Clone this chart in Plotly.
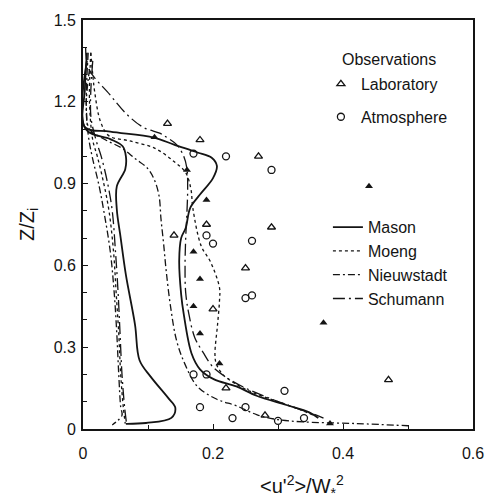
import plotly.graph_objects as go

# ---- model profiles: total (resolved + subgrid) variance ----
mason_x = [0.006, 0.003, 0.003, 0.042, 0.109, 0.140, 0.175, 0.198, 0.206, 0.200, 0.179, 0.165,
           0.158, 0.151, 0.148, 0.151, 0.155, 0.167, 0.180, 0.201, 0.236, 0.267, 0.313, 0.348, 0.362]
mason_z = [1.38, 1.25, 1.107, 1.091, 1.069, 1.043, 1.015, 0.995, 0.965, 0.920, 0.857, 0.811,
           0.737, 0.700, 0.617, 0.494, 0.421, 0.277, 0.219, 0.183, 0.156, 0.122, 0.088, 0.061, 0.040]

moeng_x = [0.012, 0.015, 0.018, 0.027, 0.040, 0.071, 0.110, 0.140, 0.158, 0.166, 0.169, 0.182,
           0.196, 0.210, 0.210, 0.207, 0.203, 0.205, 0.215, 0.235, 0.265, 0.300, 0.335, 0.355]
moeng_z = [1.38, 1.30, 1.236, 1.127, 1.075, 1.057, 1.030, 0.981, 0.940, 0.880, 0.810, 0.670,
           0.614, 0.518, 0.471, 0.383, 0.274, 0.240, 0.200, 0.165, 0.130, 0.100, 0.070, 0.050]

nieuw_x = [0.010, 0.005, 0.010, 0.035, 0.060, 0.081, 0.099, 0.110, 0.117, 0.120, 0.124, 0.128,
           0.135, 0.144, 0.157, 0.176, 0.206, 0.236, 0.268, 0.298, 0.339, 0.420, 0.500]
nieuw_z = [1.32, 1.18, 1.100, 1.060, 1.030, 0.990, 0.957, 0.913, 0.855, 0.770, 0.680, 0.580,
           0.444, 0.324, 0.237, 0.156, 0.109, 0.085, 0.052, 0.035, 0.026, 0.020, 0.012]

schu_x = [0.004, 0.009, 0.041, 0.067, 0.093, 0.118, 0.128, 0.144, 0.155, 0.160, 0.161, 0.160,
          0.158, 0.157, 0.158, 0.163, 0.172, 0.185, 0.200, 0.220, 0.250, 0.290, 0.330, 0.360, 0.370]
schu_z = [1.40, 1.32, 1.227, 1.155, 1.106, 1.085, 1.071, 1.043, 1.000, 0.953, 0.880, 0.800,
          0.700, 0.600, 0.500, 0.420, 0.335, 0.280, 0.227, 0.190, 0.150, 0.110, 0.075, 0.050, 0.040]

# ---- model profiles: subgrid contribution ----
mason_sgs_x = [0.006, 0.004, 0.042, 0.061, 0.066, 0.065, 0.052, 0.052, 0.058, 0.066, 0.080, 0.087,
               0.104, 0.131, 0.142, 0.136, 0.097, 0.066]
mason_sgs_z = [1.35, 1.100, 1.063, 1.037, 1.000, 0.953, 0.890, 0.806, 0.700, 0.565, 0.383, 0.252,
               0.192, 0.114, 0.078, 0.041, 0.022, 0.019]

moeng_sgs_x = [0.012, 0.010, 0.015, 0.022, 0.032, 0.040, 0.047, 0.051, 0.055, 0.058, 0.062, 0.065]
moeng_sgs_z = [1.38, 1.20, 1.06, 1.00, 0.90, 0.80, 0.65, 0.50, 0.35, 0.20, 0.08, 0.02]

nieuw_sgs_x = [0.008, 0.005, 0.008, 0.014, 0.024, 0.032, 0.042, 0.048, 0.052, 0.055, 0.058, 0.060, 0.045]
nieuw_sgs_z = [1.38, 1.20, 1.08, 1.00, 0.90, 0.80, 0.65, 0.50, 0.35, 0.20, 0.08, 0.05, 0.015]

schu_sgs_x = [0.015, 0.012, 0.020, 0.028, 0.038, 0.045, 0.050, 0.054, 0.057, 0.060, 0.064, 0.067]
schu_sgs_z = [1.35, 1.15, 1.06, 1.00, 0.90, 0.80, 0.65, 0.50, 0.35, 0.20, 0.08, 0.02]

# ---- observations ----
lab_open_x = [0.13, 0.18, 0.27, 0.19, 0.14, 0.29, 0.25, 0.20, 0.22, 0.47, 0.28]
lab_open_z = [1.12, 1.06, 1.00, 0.75, 0.71, 0.74, 0.59, 0.44, 0.15, 0.18, 0.05]

lab_solid_x = [0.11, 0.16, 0.19, 0.17, 0.18, 0.17, 0.18, 0.21, 0.44, 0.37, 0.38]
lab_solid_z = [1.07, 0.95, 0.84, 0.65, 0.55, 0.45, 0.35, 0.24, 0.89, 0.39, 0.02]

atm_x = [0.17, 0.22, 0.29, 0.19, 0.20, 0.26, 0.25, 0.26, 0.17, 0.19, 0.18, 0.23, 0.25, 0.31, 0.30, 0.34]
atm_z = [1.01, 1.00, 0.95, 0.71, 0.68, 0.69, 0.48, 0.49, 0.20, 0.20, 0.08, 0.04, 0.08, 0.14, 0.03, 0.04]

x_ticks = [0, 0.2, 0.4, 0.6]
x_labels = ["0", "0.2", "0.4", "0.6"]
z_ticks = [0, 0.3, 0.6, 0.9, 1.2, 1.5]
z_labels = ["0", "0.3", "0.6", "0.9", "1.2", "1.5"]

INK = "#141414"
FONT = "Liberation Sans, Arial, sans-serif"

styles = {
    "Mason": dict(color=INK, width=1.8, dash="solid"),
    "Moeng": dict(color=INK, width=1.3, dash="3px,3px"),
    "Nieuwstadt": dict(color=INK, width=1.3, dash="7px,3px,2px,3px"),
    "Schumann": dict(color=INK, width=1.3, dash="12px,4px,2px,4px"),
}

fig = go.Figure()

profiles = [
    ("Mason", mason_x, mason_z, mason_sgs_x, mason_sgs_z),
    ("Moeng", moeng_x, moeng_z, moeng_sgs_x, moeng_sgs_z),
    ("Nieuwstadt", nieuw_x, nieuw_z, nieuw_sgs_x, nieuw_sgs_z),
    ("Schumann", schu_x, schu_z, schu_sgs_x, schu_sgs_z),
]

for name, tx, tz, sx, sz in profiles:
    fig.add_trace(go.Scatter(x=tx, y=tz, mode="lines", name=name, line=styles[name],
                             legend="legend2", line_shape="spline"))
    fig.add_trace(go.Scatter(x=sx, y=sz, mode="lines", name=name, line=styles[name],
                             legend="legend2", showlegend=False, line_shape="spline"))

fig.add_trace(go.Scatter(x=lab_open_x, y=lab_open_z, mode="markers", name="Laboratory",
                         marker=dict(symbol="triangle-up-open", size=7, color=INK,
                                     line=dict(width=1.3, color=INK)),
                         legend="legend", legendgroup="lab"))
fig.add_trace(go.Scatter(x=lab_solid_x, y=lab_solid_z, mode="markers", name="Laboratory",
                         marker=dict(symbol="triangle-up", size=7, color=INK),
                         legend="legend", legendgroup="lab", showlegend=False))
fig.add_trace(go.Scatter(x=atm_x, y=atm_z, mode="markers", name="Atmosphere",
                         marker=dict(symbol="circle-open", size=7, color=INK,
                                     line=dict(width=1.3, color=INK)),
                         legend="legend", legendgroup="atm"))

axis_common = dict(
    showgrid=False, zeroline=False, showline=True, mirror=True,
    linecolor=INK, linewidth=1.8, ticks="inside", ticklen=5, tickwidth=1,
    tickcolor=INK, tickfont=dict(family=FONT, size=16, color=INK),
    minor=dict(ticks="inside", ticklen=4, tickwidth=1, tickcolor=INK, dtick=0.1),
)

fig.update_xaxes(range=[0, 0.6], tickvals=x_ticks, ticktext=x_labels,
                 ticklabelstandoff=9, **axis_common)
fig.update_yaxes(range=[0, 1.5], tickvals=z_ticks, ticktext=z_labels,
                 ticklabelstandoff=2, **axis_common)

fig.update_layout(
    width=496, height=504,
    margin=dict(l=83, r=17, t=17, b=75),
    paper_bgcolor="white", plot_bgcolor="white",
    font=dict(family=FONT, size=16, color=INK),
    legend=dict(x=0.61, y=0.885, xanchor="left", yanchor="top",
                bgcolor="rgba(0,0,0,0)", tracegroupgap=9,
                font=dict(family=FONT, size=16, color=INK), traceorder="grouped"),
    legend2=dict(x=0.628, y=0.535, xanchor="left", yanchor="top",
                 bgcolor="rgba(0,0,0,0)",
                 font=dict(family=FONT, size=16, color=INK), traceorder="normal"),
    annotations=[
        dict(text="Observations", xref="paper", yref="paper", x=0.785, y=0.903,
             xanchor="center", yanchor="middle", showarrow=False,
             font=dict(family=FONT, size=16, color=INK)),
        dict(text="&lt;u'<sup>2</sup>&gt;/W<sub>*</sub><sup>2</sup>", xref="paper", yref="paper",
             x=0.562, y=-0.14, xanchor="center", yanchor="middle", showarrow=False,
             font=dict(family=FONT, size=20, color=INK)),
        dict(text="Z/Z<sub>i</sub>", xref="paper", yref="paper", x=-0.14, y=0.5,
             xanchor="center", yanchor="middle", showarrow=False, textangle=-90,
             font=dict(family=FONT, size=20, color=INK)),
    ],
)

fig.write_html("out.html")
